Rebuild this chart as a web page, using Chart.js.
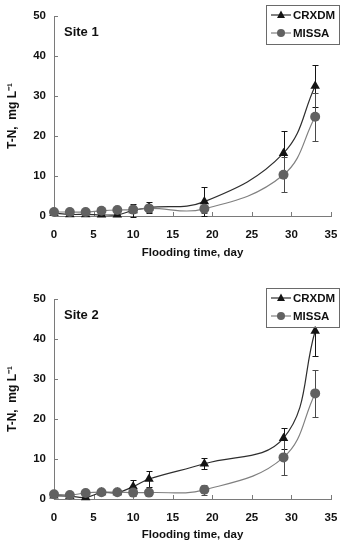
<!DOCTYPE html>
<html>
<head>
<meta charset="utf-8">
<script src="https://cdn.jsdelivr.net/npm/chart.js@4.4.0/dist/chart.umd.min.js"></script>
<style>
  html, body { margin: 0; padding: 0; background: #fff; }
  canvas { display: block; }
</style>
</head>
<body>
<canvas id="site1Chart" width="340" height="272"></canvas>
<canvas id="site2Chart" width="340" height="272"></canvas>
<script>
// flooding days and axis ticks
const days = [0, 2, 4, 6, 8, 10, 12, 19, 29, 33];
const xTicks = [0, 5, 10, 15, 20, 25, 30, 35];
const yTicks = [0, 10, 20, 30, 40, 50];
const seriesNames = ['CRXDM', 'MISSA'];

// Site 1
const site1Crxdm = [0.7, 0.4, 0.4, 0.3, 0.3, 1.4, 2.1, 3.6, 15.7, 32.5];
const site1CrxdmErr = [0.2, 0.2, 0.2, 0.3, 0.3, 1.6, 1.3, 3.7, 5.5, 5.2];
const site1Missa = [1.0, 1.0, 1.0, 1.3, 1.5, 1.6, 1.9, 1.8, 10.3, 24.8];
const site1MissaErr = [0.3, 0.3, 0.3, 0.3, 0.4, 0.6, 0.8, 1.0, 4.4, 6.0];

// Site 2
const site2Crxdm = [0.8, 0.7, 0.4, 1.6, 1.6, 3.1, 5.0, 8.8, 15.2, 42.0];
const site2CrxdmErr = [0.2, 0.2, 0.3, 0.4, 0.4, 1.7, 1.9, 1.4, 2.6, 6.2];
const site2Missa = [1.2, 1.0, 1.5, 1.7, 1.7, 1.6, 1.6, 2.3, 10.4, 26.4];
const site2MissaErr = [0.3, 0.3, 0.3, 0.4, 0.4, 0.8, 0.6, 1.3, 4.3, 5.8];

const FONT = "'Liberation Sans', Arial, sans-serif";
const AXIS_COLOR = '#7a7a7a';
const CRX_COLOR = '#141414';
const CRX_LINE = '#2e2e2e';
const MIS_COLOR = '#616161';
const MIS_LINE = '#808080';

Chart.defaults.font.family = FONT;
Chart.defaults.font.weight = 'bold';
Chart.defaults.font.size = 11;
Chart.defaults.color = '#111';

// error bars + inside tick marks
const errorBarPlugin = {
    id: 'errorBars',
    beforeDatasetsDraw(chart) {
        const ctx = chart.ctx;
        const xs = chart.scales.x, ys = chart.scales.y;
        ctx.save();
        // inside tick marks
        ctx.strokeStyle = AXIS_COLOR;
        ctx.lineWidth = 1;
        ctx.beginPath();
        xTicks.forEach(v => {
            if (v === 0) return;
            const px = Math.round(xs.getPixelForValue(v)) + 0.5;
            ctx.moveTo(px, ys.bottom);
            ctx.lineTo(px, ys.bottom - 4);
        });
        yTicks.forEach(v => {
            if (v === 0) return;
            const py = Math.round(ys.getPixelForValue(v)) + 0.5;
            ctx.moveTo(xs.left, py);
            ctx.lineTo(xs.left + 4, py);
        });
        ctx.stroke();

        chart.data.datasets.forEach(ds => {
            ctx.strokeStyle = ds.errColor;
            ctx.lineWidth = 1;
            ctx.beginPath();
            ds.data.forEach((pt, j) => {
                const e = ds.errors[j];
                if (e < 0.5) return;
                const px = Math.round(xs.getPixelForValue(pt.x)) + 0.5;
                const top = Math.round(ys.getPixelForValue(pt.y + e)) + 0.5;
                const bot = Math.round(ys.getPixelForValue(pt.y - e)) + 0.5;
                ctx.moveTo(px, top); ctx.lineTo(px, bot);
                ctx.moveTo(px - 3, top); ctx.lineTo(px + 3, top);
                ctx.moveTo(px - 3, bot); ctx.lineTo(px + 3, bot);
            });
            ctx.stroke();
        });
        ctx.restore();
    }
};

// site label and boxed legend
const extrasPlugin = {
    id: 'panelExtras',
    afterDraw(chart, args, opts) {
        const ctx = chart.ctx;
        const area = chart.chartArea;
        ctx.save();
        ctx.fillStyle = '#111';
        ctx.font = 'bold 13px ' + FONT;
        ctx.textBaseline = 'middle';
        ctx.textAlign = 'left';
        ctx.fillText(opts.site, area.left + 10, area.top + 16);

        // legend box
        const bx = area.right - 65, by = area.top - 11.5, bw = 73, bh = 39;
        ctx.fillStyle = '#fff';
        ctx.fillRect(bx, by, bw, bh);
        ctx.strokeStyle = '#6a6a6a';
        ctx.lineWidth = 1;
        ctx.strokeRect(Math.round(bx) + 0.5, Math.round(by) + 0.5, bw, bh);

        const rows = [by + 10.5, by + 28.5];
        ctx.font = 'bold 11.5px ' + FONT;
        chart.data.datasets.forEach((ds, i) => {
            const ry = rows[i];
            ctx.strokeStyle = ds.borderColor;
            ctx.lineWidth = 1.2;
            ctx.beginPath();
            ctx.moveTo(bx + 5, ry);
            ctx.lineTo(bx + 25, ry);
            ctx.stroke();
            ctx.fillStyle = ds.pointBackgroundColor;
            ctx.beginPath();
            if (ds.pointStyle === 'triangle') {
                ctx.moveTo(bx + 15, ry - 4.5);
                ctx.lineTo(bx + 19, ry + 3);
                ctx.lineTo(bx + 11, ry + 3);
                ctx.closePath();
            } else {
                ctx.arc(bx + 15, ry, 4, 0, Math.PI * 2);
            }
            ctx.fill();
            ctx.fillStyle = '#111';
            ctx.fillText(ds.label, bx + 27, ry + 0.5);
        });
        ctx.restore();
    }
};

function makeChart(canvasId, site, crx, crxErr, mis, misErr, padTop, padBottom, xHeight) {
    const ctx = document.getElementById(canvasId).getContext('2d');
    return new Chart(ctx, {
        type: 'line',
        data: {
            labels: days,
            datasets: [{
                label: seriesNames[0],
                data: days.map((d, i) => ({ x: d, y: crx[i] })),
                errors: crxErr,
                errColor: CRX_COLOR,
                borderColor: CRX_LINE,
                borderWidth: 1.2,
                pointStyle: 'triangle',
                pointRadius: 5.5,
                pointBackgroundColor: CRX_COLOR,
                pointBorderColor: CRX_COLOR,
                pointBorderWidth: 0,
                tension: 0.4,
                clip: false,
                order: 1
            }, {
                label: seriesNames[1],
                data: days.map((d, i) => ({ x: d, y: mis[i] })),
                errors: misErr,
                errColor: '#4a4a4a',
                borderColor: MIS_LINE,
                borderWidth: 1.2,
                pointStyle: 'circle',
                pointRadius: 5,
                pointBackgroundColor: MIS_COLOR,
                pointBorderColor: MIS_COLOR,
                pointBorderWidth: 0,
                tension: 0.4,
                clip: false,
                order: 0
            }]
        },
        options: {
            responsive: false,
            animation: false,
            events: [],
            layout: { padding: { left: 0, right: 9, top: padTop, bottom: padBottom } },
            plugins: {
                legend: { display: false },
                tooltip: { enabled: false },
                panelExtras: { site: site }
            },
            scales: {
                x: {
                    type: 'linear',
                    min: 0, max: 35,
                    afterBuildTicks: s => { s.ticks = xTicks.map(v => ({ value: v })); },
                    afterFit: s => { s.height = xHeight; s.paddingRight = 0; s.paddingLeft = 0; },
                    grid: { display: false, drawTicks: false },
                    border: { display: true, color: AXIS_COLOR, width: 1 },
                    ticks: { padding: 12, maxRotation: 0, autoSkip: false, color: '#111', font: { size: 11.5 } },
                    title: {
                        display: true,
                        text: 'Flooding time, day',
                        color: '#111',
                        font: { size: 11.5, weight: 'bold' },
                        padding: { top: 0, bottom: 0 }
                    }
                },
                y: {
                    min: 0, max: 50,
                    afterBuildTicks: s => { s.ticks = yTicks.map(v => ({ value: v })); },
                    afterFit: s => { s.width = 54; },
                    grid: { display: false, drawTicks: false },
                    border: { display: true, color: AXIS_COLOR, width: 1 },
                    ticks: { padding: 8, color: '#111', font: { size: 11.5 } },
                    title: {
                        display: true,
                        text: 'T-N,  mg L\u207B\u00B9',
                        color: '#111',
                        font: { size: 12, weight: 'bold' },
                        padding: { top: 5, bottom: 0 }
                    }
                }
            }
        },
        plugins: [errorBarPlugin, extrasPlugin]
    });
}

makeChart('site1Chart', 'Site 1', site1Crxdm, site1CrxdmErr, site1Missa, site1MissaErr, 16, 12, 44);
makeChart('site2Chart', 'Site 2', site2Crxdm, site2CrxdmErr, site2Missa, site2MissaErr, 27, 2, 43);
</script>
</body>
</html>
